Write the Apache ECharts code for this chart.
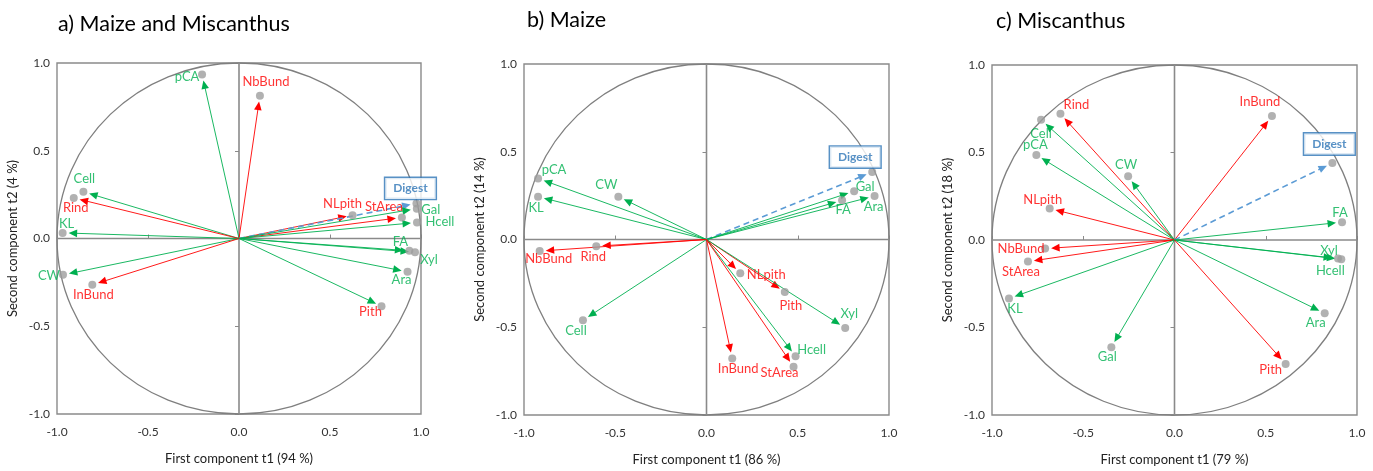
<!DOCTYPE html>
<html><head><meta charset="utf-8">
<script src="https://cdn.jsdelivr.net/npm/echarts@6/dist/echarts.min.js"></script>
<style>html,body{margin:0;padding:0;background:#fff}#c{width:1373px;height:471px}</style>
</head><body><div id="c"></div>
<script>
// ---------- data ----------
const tickValues = [-1.0, -0.5, 0.0, 0.5, 1.0];
const titles = ['a) Maize and Miscanthus', 'b) Maize', 'c) Miscanthus'];
const xNames = ['First component t1 (94 %)', 'First component t1 (86 %)', 'First component t1 (79 %)'];
const yNames = ['Second component t2 (4 %)', 'Second component t2 (14 %)', 'Second component t2 (18 %)'];

const varsA = ['pCA','NbBund','Cell','Rind','KL','CW','InBund','NLpith','StArea','Digest','Gal','Hcell','FA','Xyl','Ara','Pith'];
const t1A = [-0.203, 0.115, -0.855, -0.908, -0.969, -0.967, -0.806, 0.624, 0.895, 0.975, 0.977, 0.978, 0.936, 0.967, 0.926, 0.783];
const t2A = [0.934, 0.814, 0.266, 0.231, 0.032, -0.207, -0.264, 0.133, 0.120, 0.200, 0.170, 0.091, -0.070, -0.078, -0.190, -0.386];

const varsB = ['pCA','KL','CW','NbBund','Rind','Cell','Digest','Gal','FA','Ara','NLpith','Pith','Xyl','Hcell','StArea','InBund'];
const t1B = [-0.923, -0.923, -0.483, -0.914, -0.604, -0.677, 0.908, 0.809, 0.743, 0.921, 0.185, 0.429, 0.760, 0.488, 0.477, 0.141];
const t2B = [0.348, 0.244, 0.244, -0.066, -0.038, -0.460, 0.384, 0.275, 0.223, 0.248, -0.193, -0.299, -0.504, -0.665, -0.725, -0.678];

const varsC = ['Rind','Cell','pCA','CW','NLpith','NbBund','StArea','KL','Gal','InBund','Digest','FA','Xyl','Hcell','Ara','Pith'];
const t1C = [-0.625, -0.731, -0.757, -0.254, -0.684, -0.709, -0.803, -0.907, -0.346, 0.534, 0.865, 0.918, 0.896, 0.914, 0.823, 0.609];
const t2C = [0.721, 0.687, 0.486, 0.364, 0.180, -0.049, -0.123, -0.334, -0.613, 0.708, 0.440, 0.102, -0.106, -0.110, -0.419, -0.708];

const greenVars = ['pCA','Cell','KL','CW','Gal','Hcell','FA','Xyl','Ara'];
const redVars = ['NbBund','Rind','InBund','NLpith','StArea','Pith'];
const responseVar = 'Digest';

// ---------- style / layout ----------
const GREEN = '#00B050', RED = '#FF0000', BLUE_LINE = '#5B9BD5', BLUE_TEXT = '#2E75B6';
const FONT = 'Lato, "Open Sans", sans-serif';
const grids = [
  {left: 57, top: 63, width: 364, height: 351},
  {left: 524, top: 64, width: 365, height: 352},
  {left: 992, top: 65, width: 365, height: 351}
];
const titlePos = [{left: 53, top: 8}, {left: 522, top: 4}, {left: 991, top: 5}];
// label offsets (px) relative to each dot
const labelOffsets = [
  {pCA:[-15,2], NbBund:[6,-14], Cell:[1,-13], Rind:[2,10], KL:[4,-9], CW:[-14,1], InBund:[1,10],
   NLpith:[-10,-11], StArea:[-18,-11], Digest:[-6,-15], Gal:[14,1], Hcell:[23,-1], FA:[-9,-9],
   Xyl:[14,8], Ara:[-6,8], Pith:[-11,6]},
  {pCA:[16,-9], KL:[-2,11], CW:[-12,-12], NbBund:[9,8], Rind:[-3,11], Cell:[-7,11], Digest:[-17,-15],
   Gal:[11,-4], FA:[1,9], Ara:[-1,11], NLpith:[26,1], Pith:[6,14], Xyl:[4,-14], Hcell:[16,-6],
   StArea:[-14,6], InBund:[6,10]},
  {Rind:[16,-9], Cell:[0,14], pCA:[-1,-10], CW:[-2,-11], NLpith:[-7,-9], NbBund:[-24,0], StArea:[-7,10],
   KL:[6,10], Gal:[-4,10], InBund:[-12,-14], Digest:[-3,-19], FA:[-2,-9], Xyl:[-9,-8], Hcell:[-11,12],
   Ara:[-9,9], Pith:[-15,6]}
];
// arrow colour overrides (panel a: Pith arrow drawn in green)
const arrowOverride = [{Pith: GREEN}, {}, {}];

function textColor(n){ return n === responseVar ? BLUE_TEXT : (greenVars.includes(n) ? GREEN : RED); }
function lineColor(n, p){ if (arrowOverride[p][n]) return arrowOverride[p][n]; return n === responseVar ? BLUE_LINE : (greenVars.includes(n) ? GREEN : RED); }

const panels = [[varsA, t1A, t2A], [varsB, t1B, t2B], [varsC, t1C, t2C]];

const option = {
  animation: false,
  backgroundColor: '#fff',
  title: titles.map((t, i) => ({text: t, left: titlePos[i].left, top: titlePos[i].top,
    textStyle: {fontFamily: FONT, fontSize: 21.5, fontWeight: 'normal', color: '#000'}})),
  grid: grids.map(g => Object.assign({show: true, borderColor: '#8a8a8a', borderWidth: 1.4, backgroundColor: 'transparent'}, g)),
  xAxis: grids.map((g, i) => ({
    type: 'value', gridIndex: i, min: -1, max: 1, interval: 0.5,
    name: xNames[i], nameLocation: 'middle', nameGap: 38,
    nameTextStyle: {fontFamily: FONT, fontSize: 13, color: '#222'},
    axisLine: {show: false}, splitLine: {show: false},
    axisTick: {show: true, inside: true, length: 4, lineStyle: {color: '#8a8a8a'}},
    axisLabel: {margin: 12, fontFamily: FONT, fontSize: 12, color: '#333', formatter: v => v.toFixed(1)}
  })),
  yAxis: grids.map((g, i) => ({
    type: 'value', gridIndex: i, min: -1, max: 1, interval: 0.5,
    name: yNames[i], nameLocation: 'middle', nameGap: 38,
    nameTextStyle: {fontFamily: FONT, fontSize: 13, color: '#222'},
    axisLine: {show: false}, splitLine: {show: false},
    axisTick: {show: true, inside: false, length: 4, lineStyle: {color: '#8a8a8a'}},
    axisLabel: {margin: 7, fontFamily: FONT, fontSize: 12, color: '#333', formatter: v => v.toFixed(1)}
  })),
  series: []
};

panels.forEach(([names, xs, ys], p) => {
  // unit circle and zero lines
  option.series.push({
    type: 'custom', xAxisIndex: p, yAxisIndex: p, silent: true, z: 1,
    data: [[0, 0]],
    renderItem: (params, api) => {
      const c = api.coord([0, 0]);
      const s = api.size([1, 1]);
      const l = api.coord([-1, 0]), r = api.coord([1, 0]), t = api.coord([0, 1]), b = api.coord([0, -1]);
      return {type: 'group', children: [
        {type: 'ellipse', shape: {cx: c[0], cy: c[1], rx: s[0], ry: s[1]}, style: {fill: null, stroke: '#7f7f7f', lineWidth: 1.3}},
        {type: 'line', shape: {x1: l[0], y1: l[1], x2: r[0], y2: r[1]}, style: {stroke: '#8a8a8a', lineWidth: 1.6}},
        {type: 'line', shape: {x1: t[0], y1: t[1], x2: b[0], y2: b[1]}, style: {stroke: '#8a8a8a', lineWidth: 1.6}}
      ]};
    }
  });
  // arrows
  option.series.push({
    type: 'custom', xAxisIndex: p, yAxisIndex: p, silent: true, z: 2,
    data: names.map((n, i) => [xs[i], ys[i]]),
    renderItem: (params, api) => {
      const n = names[params.dataIndex];
      const col = lineColor(n, p);
      const p0 = api.coord([0, 0]), p1 = api.coord([api.value(0), api.value(1)]);
      const dx = p1[0] - p0[0], dy = p1[1] - p0[1], L = Math.hypot(dx, dy);
      const ux = dx / L, uy = dy / L;
      const gap = 6, head = 8.5, hw = 3.8;
      const tip = [p1[0] - ux * gap, p1[1] - uy * gap];
      const base = [tip[0] - ux * head, tip[1] - uy * head];
      const dashed = n === responseVar;
      return {type: 'group', children: [
        {type: 'line', shape: {x1: p0[0], y1: p0[1], x2: base[0] + ux * 2, y2: base[1] + uy * 2},
         style: {stroke: col, lineWidth: dashed ? 1.6 : 0.9, lineDash: dashed ? [6, 4] : null}},
        {type: 'polygon', shape: {points: [tip, [base[0] - uy * hw, base[1] + ux * hw], [base[0] + uy * hw, base[1] - ux * hw]]},
         style: {fill: col}}
      ]};
    }
  });
  // dots with labels
  option.series.push({
    type: 'scatter', xAxisIndex: p, yAxisIndex: p, z: 3, silent: true,
    symbolSize: 8, itemStyle: {color: '#9e9e9e'},
    data: names.map((n, i) => {
      const off = labelOffsets[p][n] || [0, -12];
      const isResp = n === responseVar;
      return {
        value: [xs[i], ys[i]], name: n,
        label: {show: true, position: 'inside', offset: off, formatter: n,
          fontFamily: FONT, color: textColor(n),
          fontWeight: isResp ? 'bold' : 'normal',
          backgroundColor: isResp ? '#fff' : 'transparent',
          borderColor: isResp ? BLUE_TEXT : 'transparent', borderWidth: isResp ? 1.4 : 0,
          padding: isResp ? [5, 8, 4, 8] : 0, fontSize: isResp ? 12 : 13}
      };
    })
  });
});

const chart = echarts.init(document.getElementById('c'), null, {renderer: 'canvas'});
chart.setOption(option);
</script>
</body></html>
